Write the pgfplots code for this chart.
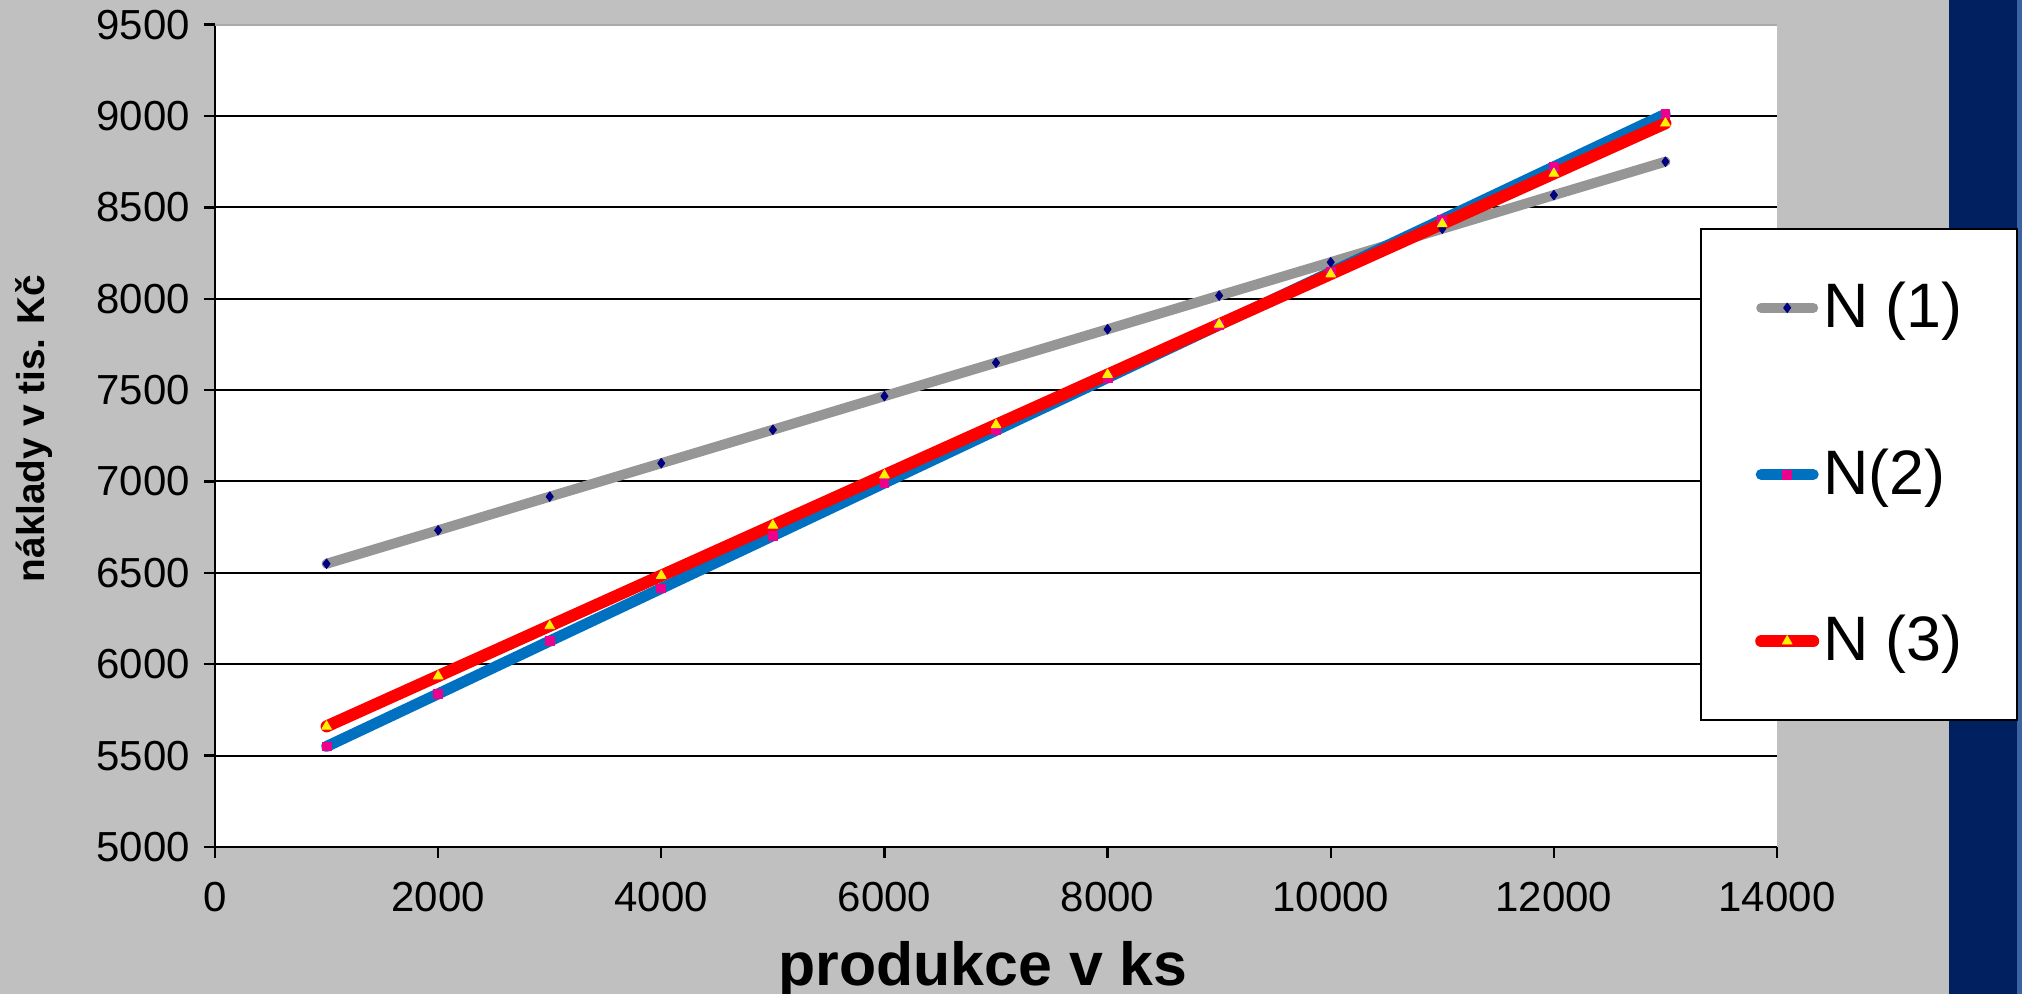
\documentclass[border=0pt]{standalone}
\usepackage{fontspec}
\setmainfont{Liberation Sans}
\usepackage{pgfplots}
\pgfplotsset{compat=1.18}
\definecolor{bggray}{RGB}{192,192,192}
\definecolor{navystrip}{RGB}{0,32,96}
\definecolor{edgeblue}{RGB}{60,100,160}
\definecolor{lgray}{RGB}{150,150,150}
\definecolor{lblue}{RGB}{0,112,192}
\definecolor{mnavy}{RGB}{0,0,128}
\definecolor{topline}{RGB}{170,170,170}

\pgfplotstableread{
x y
1000 6550
2000 6733
3000 6917
4000 7100
5000 7283
6000 7467
7000 7650
8000 7833
9000 8017
10000 8200
11000 8383
12000 8567
13000 8750
}\nA
\pgfplotstableread{
x y
1000 5550
2000 5838
3000 6127
4000 6415
5000 6703
6000 6992
7000 7280
8000 7568
9000 7857
10000 8145
11000 8433
12000 8722
13000 9010
}\nB
\pgfplotstableread{
x y
1000 5660
2000 5935
3000 6210
4000 6485
5000 6760
6000 7035
7000 7310
8000 7585
9000 7860
10000 8135
11000 8410
12000 8685
13000 8960
}\nC

\begin{document}
\begin{tikzpicture}
\useasboundingbox (-53.75pt,-36.75pt) rectangle (451.75pt,211.75pt);
\fill[bggray] (-53.75pt,-36.75pt) rectangle (451.75pt,211.75pt);
\fill[navystrip] (433.5pt,-36.75pt) rectangle (451.75pt,211.75pt);
\fill[edgeblue] (450.6pt,-36.75pt) rectangle (451.75pt,211.75pt);
\begin{axis}[
  at={(0pt,0pt)}, anchor=south west,
  scale only axis, width=390.5pt, height=205.6pt,
  xmin=0, xmax=14000, ymin=5000, ymax=9500,
  xtick={0,2000,...,14000}, ytick={5000,5500,...,9500},
  axis x line*=bottom, axis y line*=left,
  axis line style={-, black, line width=0.7pt},
  tick align=outside, major tick length=2.75pt,
  tick style={black, line width=0.6pt},
  ymajorgrids, grid style={black, line width=0.5pt},
  axis background/.style={fill=white},
  scaled ticks=false,
  /pgf/number format/assume math mode=true,
  /pgf/number format/1000 sep={},
  ticklabel style={font=\fontsize{10.5}{12}\selectfont},
  xticklabel style={yshift=-2.6pt},
  xlabel={produkce v ks}, ylabel={náklady v tis. Kč},
  every axis x label/.style={at={(axis description cs:0.4917,0)}, anchor=base, yshift=-34.5pt, font=\fontsize{15.2}{18}\selectfont\bfseries},
  every axis y label/.style={at={(axis description cs:-0.1160,0.509)}, rotate=90, anchor=center, font=\fontsize{9.7}{12}\selectfont\bfseries},
  legend style={at={(axis description cs:0.9507,0.7526)}, anchor=north west, draw=black, line width=0.6pt, fill=white, font=\fontsize{15.7}{18}\selectfont, inner xsep=13.5pt, inner ysep=13.2pt, row sep=28.8pt, column sep=1pt, nodes={inner sep=0pt}},
  legend cell align=left,
  legend image code/.code={\draw[mark repeat=2,mark phase=2,#1] plot coordinates {(0pt,0pt) (6.5pt,0pt) (13pt,0pt)};},
]
\addplot[color=lgray, line width=2.5pt, line cap=round, line join=round, mark=diamond*, mark size=1.2pt, mark options={solid, fill=mnavy, draw=mnavy, line width=0.2pt}] table[x=x,y=y] {\nA};
\addlegendentry{N (1)}
\addplot[color=lblue, line width=2.75pt, line cap=round, line join=round, mark=square*, mark size=1.1pt, mark options={solid, fill=magenta, draw=magenta, line width=0.2pt}] table[x=x,y=y] {\nB};
\addlegendentry{N(2)}
\addplot[color=red, line width=3pt, line cap=round, line join=round, mark=triangle*, mark size=1.4pt, mark options={solid, fill=yellow, draw=yellow, line width=0.2pt}] table[x=x,y=y] {\nC};
\addlegendentry{N (3)}
\draw[color=topline, line width=0.5pt] (rel axis cs:0,1) -- (rel axis cs:1,1);
\end{axis}
\end{tikzpicture}
\end{document}
